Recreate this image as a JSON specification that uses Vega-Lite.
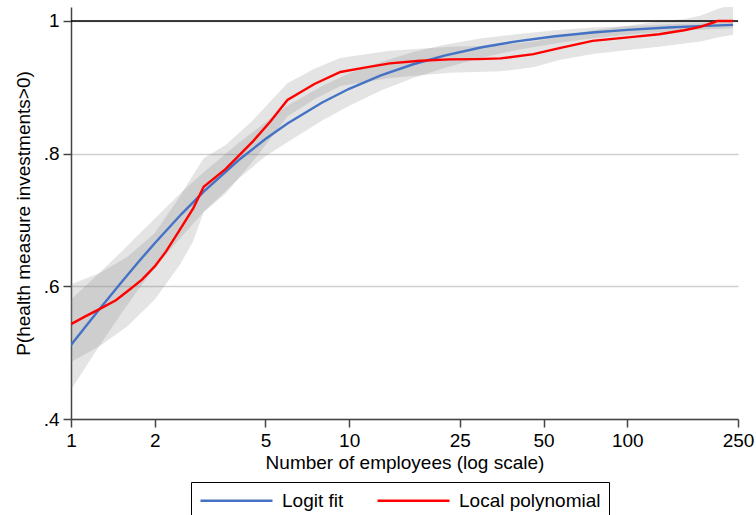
{
  "$schema": "https://vega.github.io/schema/vega-lite/v6.json",
  "width": 667,
  "height": 412,
  "autosize": {"type": "none"},
  "padding": {"left": 71, "top": 7, "right": 18, "bottom": 96},
  "background": "white",
  "config": {
    "font": "Liberation Sans",
    "view": {"stroke": null},
    "axis": {"labelFont": "Liberation Sans", "titleFont": "Liberation Sans", "labelColor": "#000", "titleColor": "#000", "titleFontWeight": "normal", "labelFontSize": 19, "titleFontSize": 19, "domainColor": "#444", "tickColor": "#444", "domainWidth": 1.5, "tickWidth": 1.5, "tickSize": 8}
  },
  "datasets": {
    "lines": [
      {"series": "Logit fit", "x": 1, "y": 0.5115},
      {"series": "Logit fit", "x": 1.25, "y": 0.5627},
      {"series": "Logit fit", "x": 1.5, "y": 0.6035},
      {"series": "Logit fit", "x": 1.75, "y": 0.637},
      {"series": "Logit fit", "x": 2, "y": 0.665},
      {"series": "Logit fit", "x": 2.5, "y": 0.7093},
      {"series": "Logit fit", "x": 3, "y": 0.7427},
      {"series": "Logit fit", "x": 4, "y": 0.79},
      {"series": "Logit fit", "x": 5, "y": 0.822},
      {"series": "Logit fit", "x": 6, "y": 0.8455},
      {"series": "Logit fit", "x": 8, "y": 0.877},
      {"series": "Logit fit", "x": 10, "y": 0.8977},
      {"series": "Logit fit", "x": 13, "y": 0.9178},
      {"series": "Logit fit", "x": 17, "y": 0.9347},
      {"series": "Logit fit", "x": 22, "y": 0.9478},
      {"series": "Logit fit", "x": 30, "y": 0.9604},
      {"series": "Logit fit", "x": 40, "y": 0.9692},
      {"series": "Logit fit", "x": 55, "y": 0.9769},
      {"series": "Logit fit", "x": 75, "y": 0.9826},
      {"series": "Logit fit", "x": 100, "y": 0.9866},
      {"series": "Logit fit", "x": 140, "y": 0.9901},
      {"series": "Logit fit", "x": 190, "y": 0.9925},
      {"series": "Logit fit", "x": 240, "y": 0.994},
      {"series": "Local polynomial", "x": 1, "y": 0.543},
      {"series": "Local polynomial", "x": 1.13, "y": 0.555},
      {"series": "Local polynomial", "x": 1.27, "y": 0.566},
      {"series": "Local polynomial", "x": 1.45, "y": 0.579},
      {"series": "Local polynomial", "x": 1.6, "y": 0.593},
      {"series": "Local polynomial", "x": 1.8, "y": 0.61},
      {"series": "Local polynomial", "x": 2, "y": 0.63},
      {"series": "Local polynomial", "x": 2.2, "y": 0.653},
      {"series": "Local polynomial", "x": 2.46, "y": 0.685},
      {"series": "Local polynomial", "x": 2.75, "y": 0.7175},
      {"series": "Local polynomial", "x": 3, "y": 0.75},
      {"series": "Local polynomial", "x": 3.6, "y": 0.777},
      {"series": "Local polynomial", "x": 4.5, "y": 0.818},
      {"series": "Local polynomial", "x": 5.2, "y": 0.848},
      {"series": "Local polynomial", "x": 6, "y": 0.881},
      {"series": "Local polynomial", "x": 7.5, "y": 0.905},
      {"series": "Local polynomial", "x": 9.3, "y": 0.923},
      {"series": "Local polynomial", "x": 11.5, "y": 0.93},
      {"series": "Local polynomial", "x": 14, "y": 0.936},
      {"series": "Local polynomial", "x": 18, "y": 0.94},
      {"series": "Local polynomial", "x": 23, "y": 0.942},
      {"series": "Local polynomial", "x": 29, "y": 0.9425},
      {"series": "Local polynomial", "x": 35, "y": 0.9435},
      {"series": "Local polynomial", "x": 46, "y": 0.95},
      {"series": "Local polynomial", "x": 57, "y": 0.959},
      {"series": "Local polynomial", "x": 75, "y": 0.97},
      {"series": "Local polynomial", "x": 105, "y": 0.976},
      {"series": "Local polynomial", "x": 130, "y": 0.98},
      {"series": "Local polynomial", "x": 160, "y": 0.986},
      {"series": "Local polynomial", "x": 183, "y": 0.991},
      {"series": "Local polynomial", "x": 205, "y": 0.998},
      {"series": "Local polynomial", "x": 211, "y": 1.0},
      {"series": "Local polynomial", "x": 240, "y": 1.0}
    ],
    "bands": [
      {"band": "logit", "x": 1, "lo": 0.444, "hi": 0.58},
      {"band": "logit", "x": 1.25, "lo": 0.507, "hi": 0.618},
      {"band": "logit", "x": 1.5, "lo": 0.556, "hi": 0.65},
      {"band": "logit", "x": 1.75, "lo": 0.596, "hi": 0.678},
      {"band": "logit", "x": 2, "lo": 0.628, "hi": 0.702},
      {"band": "logit", "x": 2.5, "lo": 0.675, "hi": 0.742},
      {"band": "logit", "x": 3, "lo": 0.712, "hi": 0.772},
      {"band": "logit", "x": 4, "lo": 0.762, "hi": 0.816},
      {"band": "logit", "x": 5, "lo": 0.796, "hi": 0.847},
      {"band": "logit", "x": 6, "lo": 0.817, "hi": 0.872},
      {"band": "logit", "x": 8, "lo": 0.85, "hi": 0.902},
      {"band": "logit", "x": 10, "lo": 0.872, "hi": 0.921},
      {"band": "logit", "x": 13, "lo": 0.895, "hi": 0.938},
      {"band": "logit", "x": 17, "lo": 0.914, "hi": 0.953},
      {"band": "logit", "x": 22, "lo": 0.929, "hi": 0.964},
      {"band": "logit", "x": 30, "lo": 0.945, "hi": 0.974},
      {"band": "logit", "x": 40, "lo": 0.956, "hi": 0.98},
      {"band": "logit", "x": 55, "lo": 0.966, "hi": 0.986},
      {"band": "logit", "x": 75, "lo": 0.974, "hi": 0.99},
      {"band": "logit", "x": 100, "lo": 0.979, "hi": 0.992},
      {"band": "logit", "x": 140, "lo": 0.984, "hi": 0.995},
      {"band": "logit", "x": 190, "lo": 0.987, "hi": 0.997},
      {"band": "logit", "x": 240, "lo": 0.989, "hi": 0.998},
      {"band": "lpoly", "x": 1, "lo": 0.486, "hi": 0.603},
      {"band": "lpoly", "x": 1.27, "lo": 0.51, "hi": 0.62},
      {"band": "lpoly", "x": 1.6, "lo": 0.54, "hi": 0.645},
      {"band": "lpoly", "x": 2, "lo": 0.58, "hi": 0.68},
      {"band": "lpoly", "x": 2.46, "lo": 0.632, "hi": 0.735},
      {"band": "lpoly", "x": 2.75, "lo": 0.668, "hi": 0.768},
      {"band": "lpoly", "x": 3, "lo": 0.712, "hi": 0.793},
      {"band": "lpoly", "x": 3.6, "lo": 0.74, "hi": 0.813},
      {"band": "lpoly", "x": 4.5, "lo": 0.788, "hi": 0.85},
      {"band": "lpoly", "x": 6, "lo": 0.856, "hi": 0.906},
      {"band": "lpoly", "x": 7.5, "lo": 0.882, "hi": 0.928},
      {"band": "lpoly", "x": 9.3, "lo": 0.902, "hi": 0.944},
      {"band": "lpoly", "x": 14, "lo": 0.914, "hi": 0.955},
      {"band": "lpoly", "x": 23, "lo": 0.922, "hi": 0.961},
      {"band": "lpoly", "x": 35, "lo": 0.924, "hi": 0.963},
      {"band": "lpoly", "x": 46, "lo": 0.93, "hi": 0.969},
      {"band": "lpoly", "x": 57, "lo": 0.941, "hi": 0.976},
      {"band": "lpoly", "x": 75, "lo": 0.95, "hi": 0.986},
      {"band": "lpoly", "x": 105, "lo": 0.957, "hi": 0.994},
      {"band": "lpoly", "x": 130, "lo": 0.961, "hi": 0.999},
      {"band": "lpoly", "x": 160, "lo": 0.966, "hi": 1.003},
      {"band": "lpoly", "x": 183, "lo": 0.969, "hi": 1.008},
      {"band": "lpoly", "x": 211, "lo": 0.975, "hi": 1.018},
      {"band": "lpoly", "x": 240, "lo": 0.979, "hi": 1.025}
    ]
  },
  "layer": [
    {
      "data": {"name": "bands"},
      "mark": {"type": "area", "fill": "#808080", "fillOpacity": 0.21, "clip": true},
      "encoding": {
        "x": {"field": "x", "type": "quantitative", "scale": {"type": "log", "domain": [1, 250], "nice": false},
          "axis": {"values": [1, 2, 5, 10, 25, 50, 100, 250], "title": "Number of employees (log scale)", "grid": false, "labelPadding": 4, "titlePadding": 3, "labelFlush": false}},
        "y": {"field": "lo", "type": "quantitative", "scale": {"domain": [0.4, 1.021], "nice": false, "zero": false},
          "axis": {"values": [0.4, 0.6, 0.8, 1], "title": "P(health measure investments>0)", "labelExpr": "datum.value == 1 ? '1' : replace(format(datum.value, '.1f'), '0.', '.')", "grid": true, "gridColor": "#cfcfcf", "gridWidth": 1.5, "labelPadding": 4, "titlePadding": 10}},
        "y2": {"field": "hi"},
        "detail": {"field": "band"}
      }
    },
    {
      "data": {"values": [{"v": 1}]},
      "mark": {"type": "rule", "color": "#000", "strokeWidth": 1.5},
      "encoding": {"y": {"field": "v", "type": "quantitative"}}
    },
    {
      "data": {"name": "lines"},
      "mark": {"type": "line", "strokeWidth": 2.4, "clip": true},
      "encoding": {
        "x": {"field": "x", "type": "quantitative"},
        "y": {"field": "y", "type": "quantitative"},
        "color": {"field": "series", "type": "nominal",
          "scale": {"domain": ["Logit fit", "Local polynomial"], "range": ["#4472C4", "#FF0000"]},
          "legend": {"title": null, "orient": "none", "legendX": 120, "legendY": 475, "direction": "horizontal", "strokeColor": "#000", "fillColor": "#fff", "padding": 8, "symbolType": "M-4,0L4,0", "symbolSize": 324, "symbolOffset": 27, "symbolStrokeWidth": 2.4, "labelFontSize": 19, "labelFont": "Liberation Sans", "labelColor": "#000", "columnPadding": 28, "labelOffset": 35, "labelLimit": 300}
        }
      }
    }
  ]
}
